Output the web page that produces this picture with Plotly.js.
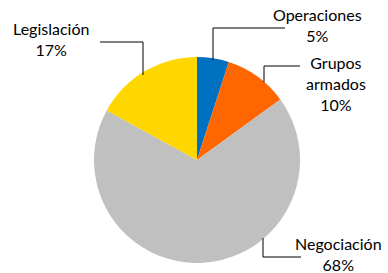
<!DOCTYPE html>
<html><head><meta charset="utf-8">
<script src="https://cdn.plot.ly/plotly-3.0.1.min.js"></script>
<style>html,body{margin:0;padding:0;background:#fff}#c{width:388px;height:273px}</style>
</head><body><div id="c"></div>
<script>
const categories = ["Operaciones", "Grupos armados", "Negociación", "Legislación"];
const values = [5, 10, 68, 17];
const labelTexts = ["Operaciones<br>5%", "Grupos<br>armados<br>10%", "Negociación<br>68%", "Legislación<br>17%"];
const colors = ["#0070C0", "#FF6600", "#C0C0C0", "#FFD700"];

const W = 388, H = 273;
const px = x => x / W, py = y => 1 - y / H;

const labelPos = [[317, 25], [336, 83], [338, 254], [51, 39]];
const leaders = [
  [[285, 28], [213, 28], [213, 60]],
  [[300, 66], [264, 66], [264, 82]],
  [[301, 257], [263, 257], [263, 238]],
  [[100, 42], [143, 42], [143, 75]]
];

const annotations = labelTexts.map((t, i) => ({
  text: t, xref: "paper", yref: "paper",
  x: px(labelPos[i][0]), y: py(labelPos[i][1]),
  xanchor: "center", yanchor: "middle", showarrow: false,
  font: {family: "Lato, 'Open Sans', sans-serif", size: 16, color: "#000"}
}));
const shapes = leaders.map(pts => ({
  type: "path", xref: "paper", yref: "paper",
  path: pts.map((p, j) => (j ? "L" : "M") + px(p[0]) + "," + py(p[1])).join(" "),
  line: {color: "#000", width: 1}
}));

Plotly.newPlot("c", [{
  type: "pie", labels: categories, values: values, sort: false,
  direction: "clockwise", rotation: 0,
  marker: {colors: colors, line: {width: 0}},
  textinfo: "none", hoverinfo: "none",
  domain: {x: [px(94), px(300)], y: [py(263), py(57)]}
}], {
  width: W, height: H, margin: {l: 0, r: 0, t: 0, b: 0},
  showlegend: false, paper_bgcolor: "#fff",
  annotations: annotations, shapes: shapes
}, {staticPlot: true});
</script></body></html>
